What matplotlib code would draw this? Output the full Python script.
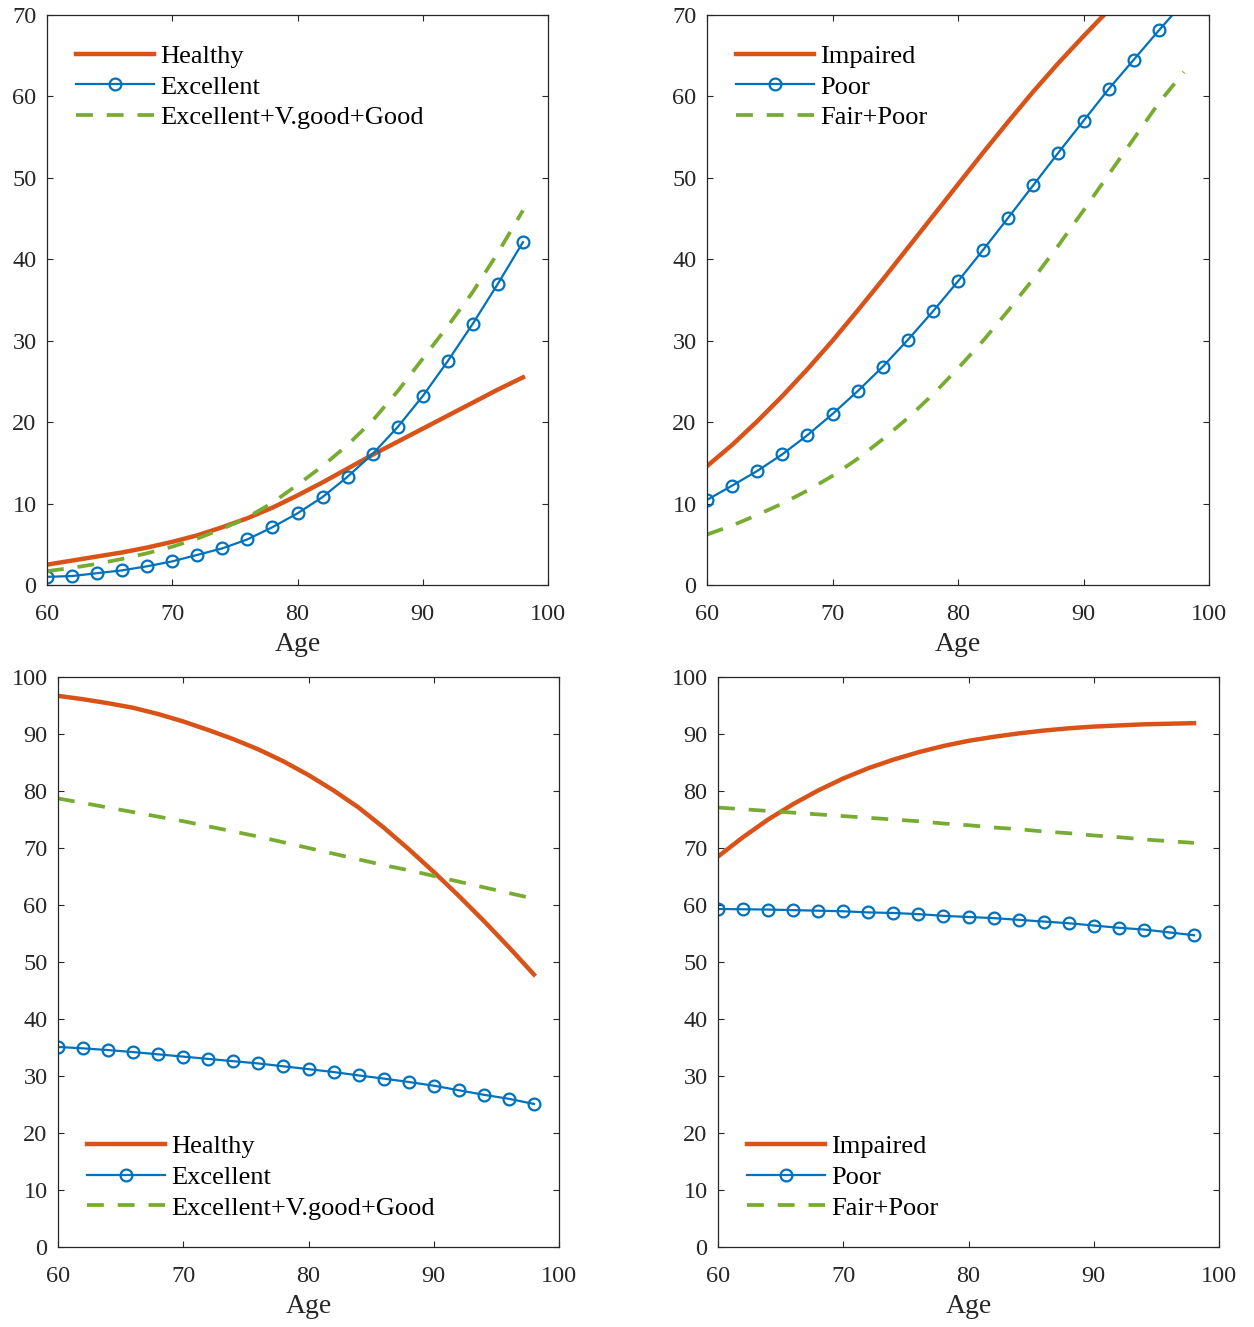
import numpy as np
import matplotlib
matplotlib.use('Agg')
import matplotlib.pyplot as plt

plt.rcParams['font.family'] = ['Liberation Serif', 'DejaVu Serif']
plt.rcParams['font.size'] = 17.5

#ages (one point every 2 years)
age = np.arange(60, 100, 2)

#top left
healthy_tl = [2.5, 3.0, 3.5, 4.0, 4.6, 5.3, 6.1, 7.1, 8.2, 9.5,
              11.0, 12.6, 14.3, 16.0, 17.6, 19.2, 20.8, 22.4, 24.0, 25.5]
excellent_tl = [1.0, 1.1, 1.45, 1.8, 2.3, 2.9, 3.7, 4.5, 5.6, 7.1,
                8.8, 10.8, 13.3, 16.1, 19.4, 23.2, 27.5, 32.1, 37.0, 42.1]
evg_tl = [1.7, 2.1, 2.6, 3.2, 3.9, 4.7, 5.7, 6.9, 8.3, 10.1,
          12.3, 14.6, 17.2, 20.2, 23.8, 27.8, 31.8, 36.0, 40.8, 46.0]

#top right
impaired_tr = [14.6, 17.2, 20.1, 23.2, 26.5, 30.0, 33.7, 37.5, 41.4, 45.3,
               49.2, 53.1, 56.9, 60.6, 64.1, 67.4, 70.6, 73.7, 76.7, 79.6]
poor_tr = [10.45, 12.2, 14.0, 16.05, 18.4, 21.0, 23.8, 26.8, 30.1, 33.6,
           37.3, 41.15, 45.1, 49.1, 53.1, 57.0, 60.9, 64.5, 68.1, 71.6]
fairpoor_tr = [6.2, 7.3, 8.6, 10.0, 11.6, 13.4, 15.5, 17.9, 20.5, 23.4,
               26.6, 30.0, 33.7, 37.6, 41.7, 46.0, 50.4, 54.8, 59.2, 63.0]

#bottom left
healthy_bl = [96.7, 96.1, 95.4, 94.6, 93.5, 92.2, 90.7, 89.1, 87.3, 85.2,
              82.8, 80.1, 77.1, 73.6, 69.8, 65.8, 61.6, 57.2, 52.6, 47.8]
excellent_bl = [35.1, 34.85, 34.55, 34.2, 33.8, 33.4, 33.0, 32.6, 32.2, 31.7,
                31.2, 30.7, 30.1, 29.55, 28.95, 28.3, 27.5, 26.7, 26.0, 25.1]
evg_bl = [78.7, 77.9, 77.1, 76.3, 75.5, 74.7, 73.8, 72.9, 72.0, 71.0,
          70.0, 69.0, 68.0, 67.0, 66.1, 65.1, 64.1, 63.1, 62.1, 61.1]

#bottom right
impaired_br = [68.5, 71.9, 75.0, 77.7, 80.1, 82.2, 84.0, 85.5, 86.8, 87.9,
               88.8, 89.5, 90.1, 90.6, 91.0, 91.3, 91.5, 91.7, 91.8, 91.9]
poor_br = [59.3, 59.25, 59.2, 59.1, 59.0, 58.9, 58.7, 58.6, 58.4, 58.1,
           57.9, 57.7, 57.4, 57.1, 56.8, 56.4, 56.0, 55.7, 55.2, 54.7]
fairpoor_br = [77.1, 76.8, 76.5, 76.2, 75.9, 75.6, 75.3, 75.0, 74.7, 74.3,
               74.0, 73.6, 73.3, 72.9, 72.6, 72.2, 71.9, 71.5, 71.2, 70.9]

labels_l = ['Healthy', 'Excellent', 'Excellent+V.good+Good']
labels_r = ['Impaired', 'Poor', 'Fair+Poor']

c_orange = '#D95319'
c_blue = '#0072BD'
c_green = '#77AC30'
c_ax = '#262626'

fig = plt.figure(figsize=(12.54, 13.27), dpi=100)
W, H = 1254.0, 1327.0
# axes boxes in pixels: left, top, right, bottom
boxes = [(47, 15, 548, 585), (707, 15, 1209, 585),
         (58, 677, 559, 1247), (718, 677, 1219, 1247)]
data = [(healthy_tl, excellent_tl, evg_tl, labels_l, 70, 'top'),
        (impaired_tr, poor_tr, fairpoor_tr, labels_r, 70, 'top'),
        (healthy_bl, excellent_bl, evg_bl, labels_l, 100, 'bottom'),
        (impaired_br, poor_br, fairpoor_br, labels_r, 100, 'bottom')]

for (l, t, r, b), (s1, s2, s3, labs, ymax, lpos) in zip(boxes, data):
    ax = fig.add_axes([l/W, 1-b/H, (r-l)/W, (b-t)/H])
    ax.plot(age, s1, color=c_orange, lw=3.2, label=labs[0])
    ax.plot(age, s2, color=c_blue, lw=1.6, marker='o', ms=8.5, mfc='none',
            mew=1.6, label=labs[1])
    ax.plot(age, s3, color=c_green, lw=2.7, ls=(0, (4.5, 3.7)), label=labs[2])
    ax.set_xlim(60, 100)
    ax.set_ylim(0, ymax)
    ax.set_xticks(np.arange(60, 101, 10))
    ax.set_yticks(np.arange(0, ymax+1, 10))
    ax.set_xlabel('Age', color=c_ax, fontsize=20, labelpad=4.6)
    ax.tick_params(direction='in', top=True, right=True, length=4.5,
                   width=0.8, colors=c_ax, labelsize=17.5)
    ax.tick_params(axis='x', pad=14)
    ax.tick_params(axis='y', pad=7.5)
    for sp in ax.spines.values():
        sp.set_color(c_ax)
        sp.set_linewidth(0.9)
    if lpos == 'top':
        ax.legend(loc='upper left', bbox_to_anchor=(0.058, 0.948), frameon=False,
                  borderpad=0, borderaxespad=0, handlelength=2.95,
                  handletextpad=0.25, labelspacing=0.27, fontsize=19)
    else:
        ax.legend(loc='lower left', bbox_to_anchor=(0.058, 0.048), frameon=False,
                  borderpad=0, borderaxespad=0, handlelength=2.95,
                  handletextpad=0.25, labelspacing=0.27, fontsize=19)

plt.savefig('out.png', dpi=100)
